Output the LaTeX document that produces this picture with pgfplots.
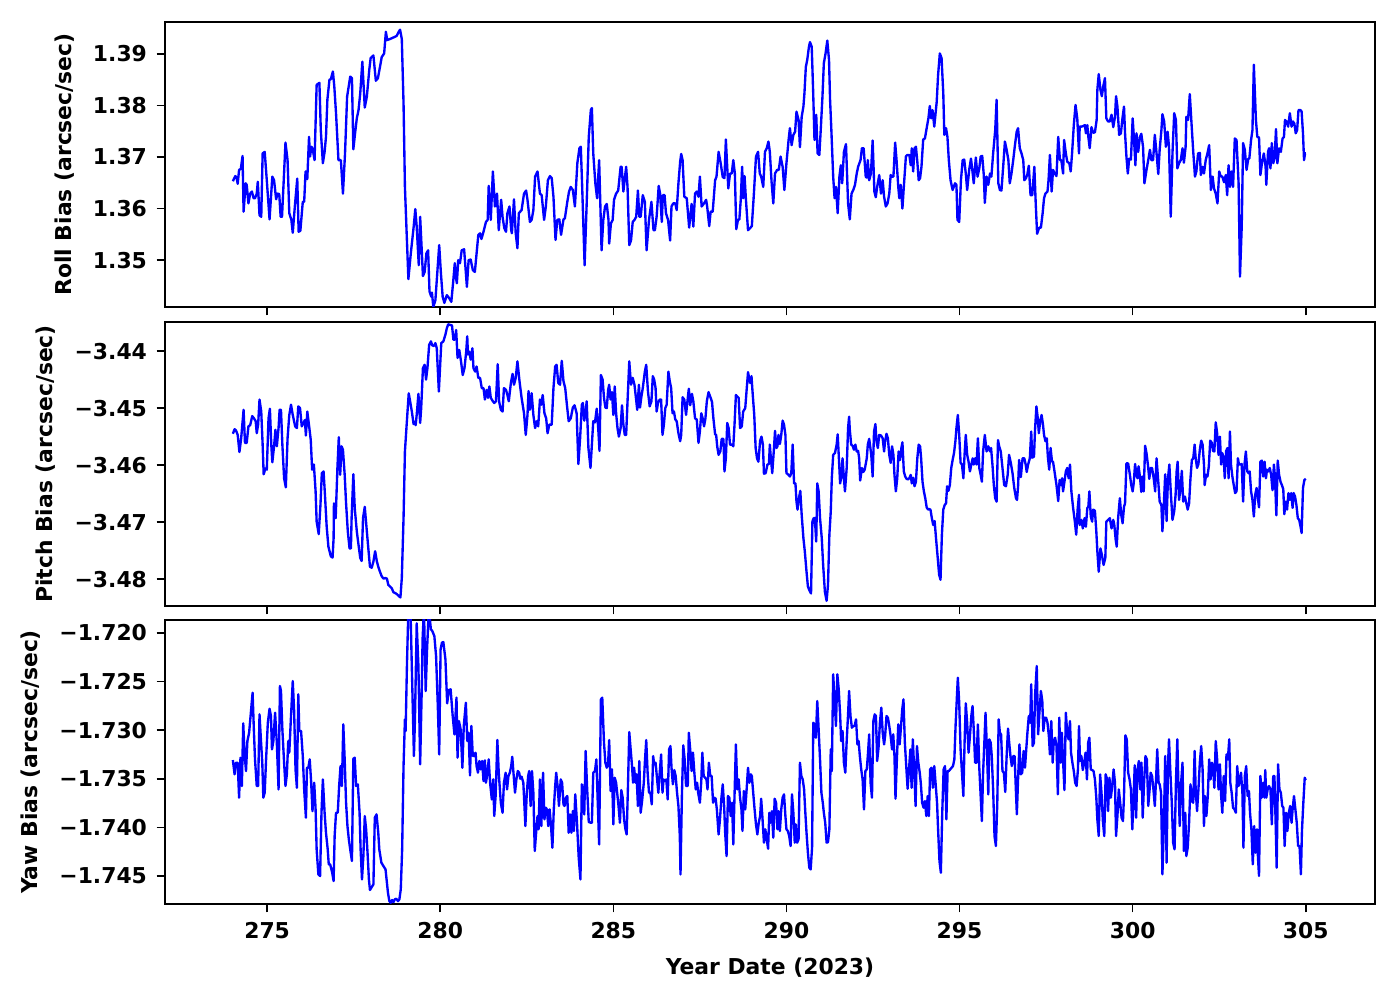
\documentclass[border=0pt]{standalone}
\usepackage{fontspec}
\setmainfont{DejaVu Sans}
\usepackage{pgfplots}
\pgfplotsset{compat=1.18}
\pgfplotsset{
  panel/.style={
    scale only axis, width=6.05in, height=1.42in,
    xmin=272.05, xmax=307,
    xtick={275,280,285,290,295,300,305},
    tick pos=left, tick align=outside,
    major tick length=3pt,
    every tick/.style={black, line width=0.55pt},
    axis line style={line width=0.55pt},
    tick label style={font=\fontsize{7.9}{9}\selectfont\bfseries},
    label style={font=\fontsize{7.9}{9}\selectfont\bfseries},
    no markers,
    every axis plot/.append style={line width=0.85pt, line join=round, color={rgb,255:red,0;green,0;blue,255}, mark=none},
    clip=true,
  }
}
\begin{document}
\begin{tikzpicture}
\path[use as bounding box] (0,0) rectangle (7in,5in);
% ---------------- Roll ----------------
\begin{axis}[panel, at={(0.825in,3.465in)}, anchor=south west,
  height=1.425in,
  ymin=1.3409, ymax=1.3962,
  ytick={1.35,1.36,1.37,1.38,1.39},
  yticklabels={1.35,1.36,1.37,1.38,1.39},
  xticklabels={},
  ylabel={Roll Bias (arcsec/sec)}]
\addplot coordinates {
(274.01,1.3653)(274.08,1.3663)(274.12,1.3660)(274.15,1.3648)(274.19,1.3675)(274.24,1.3677)(274.29,1.3702)(274.32,1.3594)(274.38,1.3649)(274.41,1.3646)(274.46,1.3610)(274.51,1.3629)(274.56,1.3633)(274.61,1.3620)(274.65,1.3620)(274.70,1.3629)(274.73,1.3652)(274.78,1.3587)(274.83,1.3584)(274.87,1.3707)(274.93,1.3710)(274.99,1.3655)(275.07,1.3579)(275.15,1.3662)(275.20,1.3655)(275.26,1.3618)(275.30,1.3629)(275.35,1.3628)(275.39,1.3584)(275.43,1.3584)(275.53,1.3728)(275.59,1.3694)(275.64,1.3591)(275.70,1.3578)(275.74,1.3553)(275.80,1.3604)(275.87,1.3658)(275.91,1.3555)(275.96,1.3557)(276.03,1.3613)(276.07,1.3613)(276.11,1.3672)(276.16,1.3657)(276.21,1.3739)(276.24,1.3701)(276.28,1.3720)(276.32,1.3714)(276.37,1.3694)(276.43,1.3840)(276.51,1.3844)(276.55,1.3752)(276.61,1.3688)(276.66,1.3710)(276.70,1.3739)(276.74,1.3811)(276.80,1.3850)(276.84,1.3851)(276.90,1.3866)(276.94,1.3837)(276.99,1.3785)(277.06,1.3694)(277.13,1.3694)(277.19,1.3629)(277.25,1.3707)(277.31,1.3817)(277.40,1.3856)(277.45,1.3853)(277.49,1.3715)(277.54,1.3746)(277.59,1.3775)(277.64,1.3791)(277.69,1.3824)(277.75,1.3885)(277.82,1.3796)(277.88,1.3817)(277.95,1.3869)(277.99,1.3892)(278.07,1.3897)(278.14,1.3848)(278.20,1.3853)(278.26,1.3875)(278.31,1.3894)(278.38,1.3901)(278.43,1.3943)(278.47,1.3927)(278.55,1.3929)(278.65,1.3932)(278.74,1.3935)(278.80,1.3943)(278.84,1.3947)(278.89,1.3929)(278.94,1.3804)(278.98,1.3642)(279.03,1.3552)(279.08,1.3463)(279.15,1.3513)(279.23,1.3563)(279.28,1.3599)(279.32,1.3565)(279.38,1.3490)(279.42,1.3584)(279.47,1.3513)(279.50,1.3469)(279.55,1.3477)(279.60,1.3513)(279.65,1.3519)(279.69,1.3439)(279.74,1.3429)(279.76,1.3437)(279.80,1.3409)(279.86,1.3422)(279.97,1.3529)(280.02,1.3474)(280.07,1.3429)(280.12,1.3417)(280.19,1.3432)(280.26,1.3426)(280.32,1.3419)(280.37,1.3455)(280.42,1.3494)(280.45,1.3468)(280.48,1.3455)(280.52,1.3500)(280.57,1.3494)(280.62,1.3519)(280.69,1.3521)(280.77,1.3448)(280.82,1.3500)(280.88,1.3501)(280.94,1.3481)(281.00,1.3477)(281.05,1.3513)(281.10,1.3549)(281.15,1.3552)(281.19,1.3541)(281.25,1.3555)(281.32,1.3574)(281.37,1.3578)(281.40,1.3644)(281.46,1.3578)(281.52,1.3672)(281.58,1.3604)(281.64,1.3629)(281.69,1.3558)(281.76,1.3617)(281.80,1.3584)(281.85,1.3562)(281.90,1.3555)(281.94,1.3591)(282.00,1.3604)(282.05,1.3558)(282.07,1.3552)(282.13,1.3618)(282.18,1.3552)(282.23,1.3523)(282.27,1.3591)(282.31,1.3594)(282.35,1.3597)(282.42,1.3629)(282.48,1.3635)(282.52,1.3617)(282.59,1.3574)(282.64,1.3578)(282.69,1.3597)(282.74,1.3662)(282.81,1.3672)(282.88,1.3629)(282.93,1.3626)(283.00,1.3578)(283.05,1.3604)(283.11,1.3655)(283.17,1.3663)(283.22,1.3659)(283.27,1.3623)(283.33,1.3539)(283.38,1.3578)(283.44,1.3579)(283.49,1.3549)(283.56,1.3579)(283.60,1.3581)(283.67,1.3613)(283.72,1.3633)(283.77,1.3642)(283.83,1.3636)(283.89,1.3604)(283.96,1.3688)(284.02,1.3717)(284.06,1.3720)(284.10,1.3642)(284.17,1.3490)(284.23,1.3610)(284.29,1.3739)(284.35,1.3791)(284.38,1.3795)(284.42,1.3707)(284.48,1.3649)(284.53,1.3620)(284.59,1.3694)
(284.66,1.3519)(284.71,1.3578)(284.76,1.3604)(284.81,1.3609)(284.86,1.3578)(284.88,1.3532)(284.93,1.3571)(284.98,1.3578)(285.02,1.3617)(285.08,1.3629)(285.14,1.3635)(285.21,1.3681)(285.24,1.3681)(285.29,1.3633)(285.37,1.3681)(285.41,1.3642)(285.46,1.3529)(285.51,1.3538)(285.56,1.3574)(285.61,1.3578)(285.66,1.3584)(285.71,1.3635)(285.75,1.3584)(285.79,1.3584)(285.85,1.3626)(285.91,1.3613)(285.96,1.3519)(286.03,1.3578)(286.10,1.3613)(286.16,1.3558)(286.20,1.3558)(286.25,1.3584)(286.31,1.3644)(286.35,1.3629)(286.40,1.3574)(286.43,1.3626)(286.48,1.3626)(286.52,1.3591)(286.58,1.3578)(286.64,1.3538)(286.68,1.3604)(286.73,1.3610)(286.79,1.3610)(286.83,1.3597)(286.88,1.3649)(286.93,1.3691)(286.96,1.3706)(287.00,1.3694)(287.05,1.3623)(287.12,1.3620)(287.19,1.3563)(287.26,1.3609)(287.31,1.3565)(287.36,1.3629)(287.41,1.3633)(287.46,1.3623)(287.50,1.3662)(287.55,1.3604)(287.62,1.3610)(287.68,1.3617)(287.71,1.3604)(287.77,1.3566)(287.81,1.3594)(287.87,1.3594)(287.94,1.3655)(287.98,1.3662)(288.04,1.3710)(288.10,1.3688)(288.16,1.3661)(288.21,1.3659)(288.25,1.3734)(288.32,1.3639)(288.37,1.3668)(288.42,1.3668)(288.465,1.3694)(288.51,1.3668)(288.55,1.3560)(288.60,1.3578)(288.64,1.3579)(288.68,1.3617)(288.72,1.3681)(288.75,1.3620)(288.79,1.3663)(288.83,1.3617)(288.89,1.3558)(288.95,1.3562)(289.00,1.3566)(289.06,1.3629)(289.12,1.3701)(289.18,1.3710)(289.23,1.3668)(289.27,1.3662)(289.33,1.3642)(289.38,1.3710)(289.43,1.3717)(289.48,1.3730)(289.52,1.3710)(289.57,1.3652)(289.62,1.3610)(289.67,1.3668)(289.73,1.3675)(289.78,1.3675)(289.83,1.3701)(289.89,1.3681)(289.94,1.3636)(290.00,1.3688)(290.06,1.3732)(290.10,1.3756)(290.15,1.3723)(290.20,1.3743)(290.25,1.3749)(290.29,1.3788)(290.35,1.3772)(290.39,1.3719)(290.44,1.3778)(290.49,1.3798)(290.52,1.3824)(290.56,1.3875)(290.60,1.3888)(290.65,1.3914)(290.68,1.3923)(290.73,1.3914)(290.77,1.3830)(290.81,1.3733)(290.86,1.3782)(290.90,1.3707)(290.95,1.3704)(290.99,1.3752)(291.04,1.3817)(291.08,1.3882)(291.13,1.3901)(291.18,1.3926)(291.23,1.3888)(291.26,1.3811)(291.295,1.3756)(291.35,1.3662)(291.39,1.3620)(291.43,1.3642)(291.48,1.3591)(291.53,1.3662)(291.57,1.3684)(291.61,1.3649)(291.66,1.3710)(291.72,1.3725)(291.78,1.3610)(291.83,1.3579)(291.88,1.3629)(291.93,1.3636)(291.98,1.3646)(292.03,1.3668)(292.07,1.3681)(292.14,1.3694)(292.18,1.3717)(292.23,1.3717)(292.29,1.3662)(292.32,1.3660)(292.35,1.3694)(292.39,1.3655)(292.44,1.3668)(292.49,1.3732)(292.54,1.3633)(292.58,1.3622)(292.62,1.3642)(292.68,1.3665)(292.73,1.3629)(292.78,1.3655)(292.82,1.3623)(292.87,1.3604)(292.92,1.3610)(292.97,1.3629)(293.01,1.3665)(293.05,1.3662)(293.09,1.3662)(293.14,1.3728)(293.18,1.3694)(293.23,1.3642)(293.26,1.3620)(293.30,1.3646)(293.35,1.3600)(293.39,1.3642)(293.45,1.3701)(293.49,1.3704)(293.55,1.3704)(293.59,1.3684)(293.62,1.3717)(293.66,1.3672)(293.70,1.3717)(293.74,1.3720)(293.78,1.3691)(293.82,1.3655)(293.86,1.3659)(293.90,1.3681)(293.95,1.3734)(294.00,1.3736)(294.05,1.3756)(294.10,1.3775)(294.14,1.3799)(294.18,1.3775)(294.22,1.3791)(294.27,1.3759)(294.34,1.3807)(294.38,1.3859)(294.43,1.3901)(294.48,1.3892)(294.53,1.3824)(294.56,1.3743)(294.61,1.3756)(294.65,1.3739)(294.69,1.3694)(294.74,1.3655)(294.80,1.3636)(294.87,1.3649)(294.91,1.3646)(294.94,1.3578)(294.99,1.3574)(295.04,1.3655)(295.09,1.3694)(295.135,1.3695)(295.18,1.3668)(295.22,1.3636)(295.28,1.3676)(295.33,1.3697)(295.38,1.3668)(295.41,1.3649)(295.47,1.3699)(295.52,1.3662)(295.57,1.3678)(295.61,1.3701)(295.655,1.3702)(295.70,1.3665)(295.73,1.3611)(295.78,1.3662)(295.83,1.3646)(295.88,1.3668)(295.92,1.3662)(295.97,1.3707)(296.03,1.3752)(296.07,1.3811)(296.12,1.3649)
(296.165,1.3636)(296.21,1.3635)(296.26,1.3681)(296.31,1.3730)(296.36,1.3714)(296.41,1.3694)(296.45,1.3649)(296.50,1.3668)(296.55,1.3694)(296.60,1.3723)(296.65,1.3749)(296.69,1.3756)(296.74,1.3717)(296.79,1.3707)(296.84,1.3694)(296.87,1.3655)(296.92,1.3659)(296.96,1.3667)(297.00,1.3683)(297.05,1.3626)(297.10,1.3626)(297.16,1.3681)(297.20,1.3610)(297.24,1.3551)(297.30,1.3563)(297.35,1.3563)(297.40,1.3591)(297.44,1.3620)(297.48,1.3629)(297.54,1.3633)(297.57,1.3655)(297.61,1.3704)(297.66,1.3633)(297.70,1.3675)(297.75,1.3668)(297.80,1.3663)(297.85,1.3739)(297.90,1.3694)(297.94,1.3694)(297.99,1.3668)(298.02,1.3733)(298.07,1.3707)(298.11,1.3691)(298.17,1.3688)(298.21,1.3672)(298.25,1.3707)(298.30,1.3762)(298.35,1.3801)(298.40,1.3775)(298.45,1.3707)(298.47,1.3759)(298.52,1.3759)(298.57,1.3760)(298.62,1.3762)(298.65,1.3746)(298.69,1.3762)(298.72,1.3739)(298.76,1.3717)(298.81,1.3758)(298.86,1.3747)(298.91,1.3748)(298.96,1.3772)(298.98,1.3830)(299.02,1.3861)(299.07,1.3830)(299.11,1.3818)(299.15,1.3837)(299.20,1.3853)(299.24,1.3775)(299.29,1.3769)(299.34,1.3769)(299.39,1.3782)(299.44,1.3758)(299.49,1.3778)(299.52,1.3818)(299.56,1.3798)(299.61,1.3743)(299.66,1.3746)(299.70,1.3772)(299.75,1.3798)(299.78,1.3746)(299.82,1.3701)(299.86,1.3668)(299.90,1.3697)(299.95,1.3695)(300.00,1.3775)(300.04,1.3733)(300.08,1.3684)(300.11,1.3746)(300.16,1.3710)(300.21,1.3739)(300.25,1.3745)(300.30,1.3720)(300.34,1.3649)(300.40,1.3675)(300.45,1.3694)(300.50,1.3714)(300.54,1.3694)(300.59,1.3694)(300.64,1.3743)(300.69,1.3707)(300.74,1.3667)(300.78,1.3714)(300.83,1.3752)(300.86,1.3783)(300.91,1.3769)(300.96,1.3720)(301.01,1.3749)(301.05,1.3720)(301.10,1.3584)(301.15,1.3707)(301.20,1.3785)(301.25,1.3772)(301.29,1.3678)(301.34,1.3688)(301.39,1.3694)(301.44,1.3717)(301.48,1.3689)(301.53,1.3720)(301.55,1.3778)(301.60,1.3772)(301.65,1.3822)(301.70,1.3765)(301.75,1.3710)(301.80,1.3662)(301.84,1.3672)(301.89,1.3707)(301.94,1.3708)(301.97,1.3665)(302.02,1.3681)(302.06,1.3668)(302.11,1.3694)(302.16,1.3707)(302.21,1.3723)(302.26,1.3636)(302.31,1.3662)(302.35,1.3639)(302.40,1.3629)(302.45,1.3610)(302.50,1.3672)(302.54,1.3663)(302.59,1.3662)(302.64,1.3651)(302.69,1.3665)(302.73,1.3626)(302.77,1.3684)(302.81,1.3642)(302.85,1.3672)(302.90,1.3642)(302.95,1.3736)(303.00,1.3733)(303.06,1.3649)(303.10,1.3468)(303.15,1.3565)(303.19,1.3727)(303.24,1.3714)(303.29,1.3675)(303.34,1.3697)(303.37,1.3697)(303.42,1.3733)(303.46,1.3752)(303.50,1.3879)(303.56,1.3772)(303.60,1.3739)(303.65,1.3738)(303.69,1.3665)(303.74,1.3691)(303.79,1.3707)(303.84,1.3681)(303.86,1.3646)(303.91,1.3710)(303.94,1.3717)(303.98,1.3678)(304.02,1.3727)(304.06,1.3688)(304.10,1.3697)(304.14,1.3754)(304.18,1.3688)(304.23,1.3717)(304.28,1.3710)(304.33,1.3736)(304.37,1.3739)(304.40,1.3772)(304.44,1.3769)(304.49,1.3759)(304.54,1.3785)(304.59,1.3759)(304.63,1.3769)(304.67,1.3765)(304.71,1.3746)(304.75,1.3752)(304.79,1.3791)(304.85,1.3791)(304.88,1.3788)(304.92,1.3746)(304.95,1.3694)(304.98,1.3707)(305.00,1.3707)
};
\end{axis}
% ---------------- Pitch ----------------
\begin{axis}[panel, at={(0.825in,1.97in)}, anchor=south west,
  ymin=-3.4847, ymax=-3.4349,
  ytick={-3.48,-3.47,-3.46,-3.45,-3.44},
  yticklabels={−3.48,−3.47,−3.46,−3.45,−3.44},
  xticklabels={},
  ylabel={Pitch Bias (arcsec/sec)}]
\addplot coordinates {
(274.01,-3.4545)(274.06,-3.4537)(274.10,-3.4539)(274.15,-3.4547)(274.20,-3.4577)(274.25,-3.4553)(274.32,-3.4503)(274.36,-3.4561)(274.41,-3.4561)(274.46,-3.4532)(274.51,-3.4530)(274.57,-3.4514)(274.62,-3.4518)(274.67,-3.4523)(274.70,-3.4544)(274.74,-3.4529)(274.78,-3.4485)(274.83,-3.4506)(274.87,-3.4564)(274.90,-3.4616)(274.95,-3.4606)(274.99,-3.4608)(275.04,-3.4518)(275.08,-3.4501)(275.12,-3.4564)(275.15,-3.4595)(275.20,-3.4567)(275.24,-3.4538)(275.28,-3.4567)(275.33,-3.4535)(275.36,-3.4503)(275.40,-3.4503)(275.44,-3.4564)(275.49,-3.4623)(275.54,-3.4639)(275.59,-3.4553)(275.64,-3.4512)(275.69,-3.4494)(275.74,-3.4512)(275.81,-3.4532)(275.86,-3.4535)(275.90,-3.4497)(275.95,-3.4500)(276.00,-3.4532)(276.05,-3.4526)(276.09,-3.4521)(276.12,-3.4548)(276.16,-3.4506)(276.22,-3.4535)(276.26,-3.4556)(276.30,-3.4608)(276.35,-3.4599)(276.40,-3.4646)(276.43,-3.4699)(276.49,-3.4721)(276.54,-3.4670)(276.58,-3.4614)(276.63,-3.4611)(276.67,-3.4652)(276.72,-3.4708)(276.77,-3.4743)(276.84,-3.4760)(276.89,-3.4762)(276.92,-3.4728)(276.93,-3.4667)(276.98,-3.4693)(277.03,-3.4605)(277.07,-3.4551)(277.11,-3.4617)(277.15,-3.4567)(277.19,-3.4573)(277.24,-3.4617)(277.28,-3.4667)(277.33,-3.4716)(277.38,-3.4746)(277.42,-3.4746)(277.44,-3.4693)(277.49,-3.4616)(277.53,-3.4675)(277.59,-3.4716)(277.64,-3.4740)(277.69,-3.4763)(277.73,-3.4768)(277.77,-3.4693)(277.82,-3.4673)(277.88,-3.4716)(277.93,-3.4751)(277.97,-3.4778)(278.02,-3.4780)(278.07,-3.4769)(278.12,-3.4751)(278.17,-3.4769)(278.21,-3.4778)(278.26,-3.4787)(278.31,-3.4795)(278.36,-3.4799)(278.41,-3.4798)(278.46,-3.4799)(278.50,-3.4810)(278.55,-3.4813)(278.60,-3.4816)(278.65,-3.4823)(278.72,-3.4825)(278.76,-3.4827)(278.81,-3.4830)(278.85,-3.4832)(278.89,-3.4798)(278.94,-3.4693)(278.98,-3.4576)(279.03,-3.4529)(279.09,-3.4474)(279.13,-3.4488)(279.18,-3.4506)(279.23,-3.4528)(279.26,-3.4525)(279.29,-3.4530)(279.32,-3.4512)(279.37,-3.4475)(279.42,-3.4526)(279.45,-3.4500)(279.50,-3.4430)(279.55,-3.4424)(279.59,-3.4450)(279.63,-3.4430)(279.68,-3.4389)(279.73,-3.4383)(279.77,-3.4390)(279.82,-3.4391)(279.86,-3.4386)(279.90,-3.4395)(279.96,-3.4471)(280.03,-3.4386)(280.09,-3.4383)(280.15,-3.4371)(280.19,-3.4360)(280.23,-3.4353)(280.28,-3.4354)(280.34,-3.4355)(280.38,-3.4380)(280.42,-3.4380)(280.46,-3.4363)(280.50,-3.4412)(280.55,-3.4398)(280.60,-3.4418)(280.65,-3.4442)(280.70,-3.4430)(280.75,-3.4401)(280.78,-3.4374)(280.80,-3.4406)(280.84,-3.4401)(280.88,-3.4415)(280.93,-3.4395)(280.96,-3.4430)(281.01,-3.4436)(281.05,-3.4427)(281.10,-3.4447)(281.15,-3.4447)(281.20,-3.4465)(281.25,-3.4465)(281.29,-3.4485)(281.34,-3.4468)(281.38,-3.4482)(281.42,-3.4462)(281.46,-3.4482)(281.52,-3.4488)(281.56,-3.4491)(281.61,-3.4488)(281.66,-3.4423)(281.70,-3.4488)(281.75,-3.4503)(281.80,-3.4506)(281.84,-3.4465)(281.90,-3.4468)(281.94,-3.4477)(281.98,-3.4488)(282.04,-3.4456)(282.09,-3.4440)(282.13,-3.4459)(282.18,-3.4447)(282.23,-3.4418)(282.29,-3.4453)(282.35,-3.4482)(282.42,-3.4509)(282.47,-3.4547)(282.52,-3.4512)(282.55,-3.4470)(282.59,-3.4503)(282.64,-3.4474)(282.69,-3.4512)(282.74,-3.4535)(282.79,-3.4523)(282.83,-3.4532)(282.88,-3.4485)(282.92,-3.4494)(282.96,-3.4477)(283.01,-3.4509)(283.06,-3.4518)(283.10,-3.4544)(283.15,-3.4529)(283.22,-3.4529)(283.27,-3.4465)(283.32,-3.4427)(283.36,-3.4424)(283.41,-3.4456)(283.46,-3.4459)(283.51,-3.4417)(283.56,-3.4453)(283.61,-3.4465)(283.66,-3.4495)(283.71,-3.4523)(283.77,-3.4518)(283.83,-3.4499)(283.88,-3.4495)(283.94,-3.4509)(283.99,-3.4598)(284.04,-3.4553)(284.09,-3.4494)(284.12,-3.4491)(284.16,-3.4522)(284.20,-3.4506)(284.23,-3.4488)(284.28,-3.4570)(284.34,-3.4605)(284.38,-3.4564)(284.42,-3.4523)(284.47,-3.4525)(284.52,-3.4501)(284.56,-3.4532)(284.60,-3.4575)
(284.64,-3.4442)(284.69,-3.4450)(284.73,-3.4482)(284.77,-3.4499)(284.81,-3.4500)(284.85,-3.4468)(284.88,-3.4459)(284.92,-3.4485)(284.96,-3.4472)(285.00,-3.4512)(285.04,-3.4462)(285.08,-3.4509)(285.12,-3.4535)(285.16,-3.4550)(285.21,-3.4535)(285.25,-3.4495)(285.29,-3.4529)(285.33,-3.4547)(285.37,-3.4547)(285.41,-3.4488)(285.46,-3.4418)(285.51,-3.4459)(285.56,-3.4447)(285.61,-3.4459)(285.645,-3.4478)(285.69,-3.4503)(285.74,-3.4459)(285.77,-3.4499)(285.81,-3.4480)(285.85,-3.4465)(285.91,-3.4436)(285.95,-3.4424)(286.00,-3.4471)(286.05,-3.4497)(286.10,-3.4488)(286.14,-3.4444)(286.18,-3.4450)(286.22,-3.4465)(286.25,-3.4506)(286.29,-3.4491)(286.34,-3.4485)(286.38,-3.4485)(286.42,-3.4547)(286.46,-3.4529)(286.50,-3.4500)(286.54,-3.4494)(286.59,-3.4436)(286.63,-3.4453)(286.67,-3.4465)(286.71,-3.4509)(286.75,-3.4506)(286.79,-3.4520)(286.83,-3.4523)(286.88,-3.4544)(286.93,-3.4558)(286.96,-3.4547)(287.00,-3.4481)(287.05,-3.4485)(287.10,-3.4512)(287.14,-3.4488)(287.18,-3.4466)(287.22,-3.4495)(287.27,-3.4475)(287.31,-3.4488)(287.36,-3.4518)(287.41,-3.4520)(287.46,-3.4561)(287.50,-3.4541)(287.54,-3.4509)(287.58,-3.4518)(287.62,-3.4532)(287.66,-3.4518)(287.70,-3.4488)(287.75,-3.4472)(287.81,-3.4482)(287.85,-3.4489)(287.89,-3.4518)(287.94,-3.4546)(287.97,-3.4547)(288.00,-3.4567)(288.04,-3.4582)(288.09,-3.4576)(288.13,-3.4554)(288.18,-3.4554)(288.21,-3.4611)(288.25,-3.4588)(288.29,-3.4526)(288.33,-3.4535)(288.37,-3.4564)(288.43,-3.4564)(288.465,-3.4567)(288.50,-3.4529)(288.54,-3.4477)(288.58,-3.4480)(288.62,-3.4482)(288.66,-3.4535)(288.71,-3.4532)(288.75,-3.4506)(288.81,-3.4500)(288.85,-3.4468)(288.89,-3.4437)(288.95,-3.4456)(288.99,-3.4444)(289.02,-3.4471)(289.07,-3.4512)(289.11,-3.4570)(289.15,-3.4588)(289.19,-3.4594)(289.24,-3.4557)(289.28,-3.4550)(289.32,-3.4564)(289.35,-3.4615)(289.40,-3.4614)(289.45,-3.4599)(289.495,-3.4598)(289.52,-3.4564)(289.55,-3.4588)(289.59,-3.4614)(289.63,-3.4579)(289.67,-3.4540)(289.71,-3.4570)(289.74,-3.4567)(289.77,-3.4547)(289.81,-3.4563)(289.85,-3.4547)(289.89,-3.4522)(289.93,-3.4529)(289.97,-3.4547)(290.00,-3.4614)(290.06,-3.4617)(290.10,-3.4620)(290.14,-3.4614)(290.18,-3.4564)(290.22,-3.4632)(290.26,-3.4632)(290.29,-3.4664)(290.32,-3.4678)(290.36,-3.4658)(290.40,-3.4645)(290.44,-3.4687)(290.49,-3.4728)(290.53,-3.4751)(290.58,-3.4787)(290.62,-3.4813)(290.66,-3.4819)(290.71,-3.4825)(290.75,-3.4699)(290.785,-3.4693)(290.82,-3.4693)(290.86,-3.4734)(290.89,-3.4632)(290.93,-3.4646)(290.97,-3.4693)(291.02,-3.4728)(291.06,-3.4775)(291.11,-3.4822)(291.16,-3.4838)(291.20,-3.4810)(291.24,-3.4722)(291.28,-3.4681)(291.31,-3.4623)(291.35,-3.4582)(291.40,-3.4579)(291.45,-3.4564)(291.48,-3.4546)(291.51,-3.4582)(291.55,-3.4632)(291.58,-3.4623)(291.62,-3.4588)(291.66,-3.4623)(291.69,-3.4646)(291.74,-3.4605)(291.78,-3.4535)(291.81,-3.4515)(291.83,-3.4538)(291.87,-3.4564)(291.91,-3.4566)(291.95,-3.4573)(291.99,-3.4564)(292.03,-3.4576)(292.07,-3.4575)(292.10,-3.4588)(292.13,-3.4627)(292.18,-3.4605)(292.22,-3.4612)(292.26,-3.4608)(292.32,-3.4588)(292.35,-3.4564)(292.39,-3.4554)(292.45,-3.4582)(292.49,-3.4620)(292.53,-3.4541)(292.57,-3.4528)(292.60,-3.4558)(292.64,-3.4570)(292.68,-3.4547)(292.73,-3.4548)(292.78,-3.4553)(292.82,-3.4576)(292.85,-3.4558)(292.89,-3.4545)(292.93,-3.4553)(292.97,-3.4582)(293.01,-3.4596)(293.05,-3.4567)(293.09,-3.4582)(293.12,-3.4617)(293.16,-3.4646)(293.20,-3.4623)(293.24,-3.4576)(293.28,-3.4591)(293.32,-3.4570)(293.35,-3.4560)(293.39,-3.4611)(293.43,-3.4620)(293.47,-3.4624)(293.51,-3.4625)(293.55,-3.4623)(293.59,-3.4617)(293.62,-3.4632)(293.66,-3.4622)(293.70,-3.4637)(293.74,-3.4629)(293.78,-3.4588)(293.82,-3.4564)(293.86,-3.4567)(293.89,-3.4588)(293.93,-3.4629)(293.97,-3.4646)(294.01,-3.4658)(294.05,-3.4674)(294.09,-3.4678)(294.12,-3.4677)(294.16,-3.4678)(294.20,-3.4693)(294.24,-3.4705)(294.28,-3.4698)(294.32,-3.4728)(294.37,-3.4763)(294.41,-3.4792)(294.45,-3.4801)(294.49,-3.4722)(294.53,-3.4678)(294.57,-3.4670)(294.61,-3.4667)(294.64,-3.4637)(294.68,-3.4645)(294.72,-3.4635)(294.76,-3.4605)(294.80,-3.4591)(294.84,-3.4579)(294.88,-3.4558)(294.91,-3.4535)(294.95,-3.4512)(294.99,-3.4547)(295.03,-3.4596)(295.07,-3.4599)(295.11,-3.4623)(295.15,-3.4576)(295.18,-3.4547)(295.22,-3.4582)(295.26,-3.4594)(295.30,-3.4611)(295.34,-3.4599)(295.38,-3.4588)(295.41,-3.4599)(295.45,-3.4588)(295.49,-3.4599)(295.53,-3.4553)(295.57,-3.4605)(295.61,-3.4617)(295.645,-3.4629)(295.68,-3.4576)(295.73,-3.4547)(295.78,-3.4576)(295.83,-3.4567)(295.88,-3.4576)(295.91,-3.4570)(295.95,-3.4599)(295.99,-3.4635)(296.03,-3.4658)(296.07,-3.4664)(296.11,-3.4556)
(296.145,-3.4567)(296.19,-3.4576)(296.24,-3.4605)(296.29,-3.4635)(296.34,-3.4637)(296.39,-3.4617)(296.43,-3.4582)(296.48,-3.4596)(296.53,-3.4614)(296.58,-3.4640)(296.63,-3.4658)(296.66,-3.4661)(296.69,-3.4637)(296.72,-3.4591)(296.77,-3.4621)(296.82,-3.4588)(296.87,-3.4588)(296.91,-3.4599)(296.94,-3.4612)(296.98,-3.4599)(297.03,-3.4588)(297.07,-3.4541)(297.10,-3.4587)(297.15,-3.4585)(297.18,-3.4538)(297.22,-3.4497)(297.26,-3.4518)(297.29,-3.4544)(297.33,-3.4523)(297.37,-3.4512)(297.41,-3.4529)(297.44,-3.4547)(297.48,-3.4558)(297.52,-3.4553)(297.55,-3.4585)(297.59,-3.4608)(297.63,-3.4570)(297.67,-3.4594)(297.70,-3.4594)(297.75,-3.4614)(297.80,-3.4635)(297.85,-3.4663)(297.89,-3.4626)(297.93,-3.4635)(297.96,-3.4623)(297.99,-3.4646)(298.03,-3.4629)(298.07,-3.4611)(298.11,-3.4605)(298.15,-3.4623)(298.19,-3.4599)(298.23,-3.4646)(298.28,-3.4675)(298.33,-3.4699)(298.37,-3.4722)(298.41,-3.4678)(298.45,-3.4652)(298.47,-3.4705)(298.52,-3.4696)(298.56,-3.4711)(298.61,-3.4693)(298.65,-3.4708)(298.69,-3.4675)(298.72,-3.4673)(298.75,-3.4646)(298.79,-3.4690)(298.83,-3.4699)(298.86,-3.4678)(298.91,-3.4680)(298.95,-3.4716)(298.98,-3.4751)(299.02,-3.4787)(299.07,-3.4746)(299.11,-3.4757)(299.16,-3.4775)(299.21,-3.4763)(299.24,-3.4699)(299.29,-3.4696)(299.34,-3.4693)(299.39,-3.4711)(299.44,-3.4696)(299.47,-3.4705)(299.51,-3.4731)(299.54,-3.4743)(299.58,-3.4693)(299.63,-3.4658)(299.67,-3.4687)(299.71,-3.4702)(299.75,-3.4673)(299.78,-3.4667)(299.82,-3.4597)(299.87,-3.4597)(299.92,-3.4617)(299.96,-3.4635)(300.00,-3.4646)(300.03,-3.4632)(300.07,-3.4598)(300.11,-3.4617)(300.14,-3.4623)(300.17,-3.4602)(300.21,-3.4620)(300.25,-3.4647)(300.28,-3.4620)(300.32,-3.4646)(300.36,-3.4566)(300.40,-3.4579)(300.44,-3.4599)(300.48,-3.4624)(300.52,-3.4605)(300.56,-3.4605)(300.61,-3.4624)(300.65,-3.4646)(300.69,-3.4588)(300.74,-3.4629)(300.78,-3.4664)(300.83,-3.4670)(300.86,-3.4716)(300.90,-3.4670)(300.94,-3.4616)(300.98,-3.4698)(301.02,-3.4623)(301.06,-3.4599)(301.10,-3.4646)(301.15,-3.4696)(301.20,-3.4681)(301.24,-3.4652)(301.27,-3.4611)(301.30,-3.4594)(301.34,-3.4661)(301.38,-3.4642)(301.42,-3.4610)(301.46,-3.4664)(301.51,-3.4655)(301.55,-3.4667)(301.59,-3.4678)(301.63,-3.4667)(301.67,-3.4623)(301.71,-3.4591)(301.75,-3.4588)(301.79,-3.4564)(301.82,-3.4588)(301.86,-3.4605)(301.90,-3.4598)(301.94,-3.4573)(301.98,-3.4557)(302.02,-3.4564)(302.06,-3.4599)(302.08,-3.4635)(302.12,-3.4617)(302.16,-3.4620)(302.20,-3.4602)(302.24,-3.4557)(302.29,-3.4561)(302.32,-3.4575)(302.36,-3.4576)(302.40,-3.4525)(302.44,-3.4544)(302.48,-3.4582)(302.52,-3.4550)(302.556,-3.4599)(302.59,-3.4579)(302.63,-3.4588)(302.66,-3.4623)(302.70,-3.4575)(302.74,-3.4570)(302.77,-3.4623)(302.81,-3.4541)(302.84,-3.4599)(302.88,-3.4620)(302.92,-3.4635)(302.96,-3.4649)(303.00,-3.4646)(303.04,-3.4588)(303.07,-3.4599)(303.11,-3.4599)(303.15,-3.4598)(303.19,-3.4664)(303.23,-3.4599)(303.27,-3.4576)(303.31,-3.4611)(303.35,-3.4614)(303.38,-3.4611)(303.42,-3.4646)(303.46,-3.4661)(303.50,-3.4690)(303.54,-3.4652)(303.58,-3.4640)(303.61,-3.4655)(303.65,-3.4674)(303.69,-3.4594)(303.73,-3.4592)(303.77,-3.4620)(303.81,-3.4594)(303.85,-3.4623)(303.88,-3.4608)(303.92,-3.4611)(303.96,-3.4605)(304.00,-3.4617)(304.04,-3.4644)(304.08,-3.4599)(304.11,-3.4620)(304.15,-3.4688)(304.19,-3.4592)(304.23,-3.4617)(304.27,-3.4629)(304.31,-3.4635)(304.35,-3.4642)(304.38,-3.4686)(304.42,-3.4664)(304.46,-3.4678)(304.50,-3.4649)(304.54,-3.4661)(304.58,-3.4649)(304.62,-3.4675)(304.65,-3.4649)(304.69,-3.4655)(304.73,-3.4670)(304.77,-3.4693)(304.81,-3.4696)(304.85,-3.4708)(304.88,-3.4719)(304.92,-3.4640)(304.96,-3.4626)(305.00,-3.4624)
};
\end{axis}
% ---------------- Yaw ----------------
\begin{axis}[panel, at={(0.825in,0.48in)}, anchor=south west,
  ymin=-1.74788, ymax=-1.71866,
  ytick={-1.745,-1.740,-1.735,-1.730,-1.725,-1.720},
  yticklabels={−1.745,−1.740,−1.735,−1.730,−1.725,−1.720},
  xticklabels={275,280,285,290,295,300,305},
  ylabel={Yaw Bias (arcsec/sec)},
  xlabel={Year Date (2023)}]
\addplot coordinates {
(274.01,-1.73307)(274.06,-1.73454)(274.10,-1.73334)(274.15,-1.73334)(274.19,-1.73694)(274.23,-1.73283)(274.27,-1.73574)(274.31,-1.72930)(274.35,-1.73249)(274.39,-1.73420)(274.43,-1.73111)(274.48,-1.73026)(274.53,-1.72820)(274.58,-1.72614)(274.62,-1.73026)(274.65,-1.73300)(274.70,-1.73574)(274.74,-1.73574)(274.78,-1.72837)(274.82,-1.73094)(274.86,-1.73334)(274.89,-1.73694)(274.93,-1.73643)(274.97,-1.73300)(275.02,-1.72923)(275.07,-1.72779)(275.11,-1.72854)(275.14,-1.73197)(275.18,-1.73111)(275.23,-1.72820)(275.28,-1.73128)(275.33,-1.73609)(275.37,-1.72545)(275.40,-1.72597)(275.44,-1.72991)(275.49,-1.73334)(275.53,-1.73574)(275.57,-1.73454)(275.61,-1.73111)(275.64,-1.73231)(275.69,-1.72854)(275.74,-1.72494)(275.78,-1.72802)(275.82,-1.73403)(275.86,-1.73592)(275.90,-1.72631)(275.93,-1.73008)(275.98,-1.73008)(276.03,-1.73266)(276.07,-1.73609)(276.12,-1.73900)(276.15,-1.73386)(276.19,-1.73386)(276.23,-1.73300)(276.27,-1.73523)(276.31,-1.73832)(276.36,-1.73540)(276.40,-1.73814)(276.43,-1.74226)(276.48,-1.74483)(276.53,-1.74500)(276.57,-1.73849)(276.61,-1.73506)(276.66,-1.73849)(276.70,-1.74055)(276.75,-1.74226)(276.78,-1.74380)(276.82,-1.74380)(276.88,-1.74466)(276.92,-1.74552)(276.95,-1.74089)(276.99,-1.73849)(277.04,-1.73849)(277.08,-1.73574)(277.12,-1.73369)(277.16,-1.73574)(277.20,-1.72940)(277.24,-1.73300)(277.28,-1.73746)(277.32,-1.73986)(277.36,-1.74123)(277.40,-1.74226)(277.45,-1.74346)(277.49,-1.73293)(277.53,-1.73283)(277.57,-1.73574)(277.62,-1.73557)(277.67,-1.73849)(277.70,-1.74226)(277.74,-1.74535)(277.78,-1.74295)(277.82,-1.73883)(277.86,-1.74020)(277.90,-1.74260)(277.94,-1.74535)(277.97,-1.74644)(278.01,-1.74620)(278.07,-1.74586)(278.11,-1.73900)(278.16,-1.73866)(278.21,-1.74055)(278.24,-1.74226)(278.30,-1.74363)(278.36,-1.74398)(278.42,-1.74432)(278.46,-1.74569)(278.49,-1.74672)(278.53,-1.74758)(278.57,-1.74775)(278.61,-1.74747)(278.65,-1.74768)(278.69,-1.74740)(278.73,-1.74734)(278.78,-1.74758)(278.82,-1.74740)(278.86,-1.74638)(278.90,-1.74226)(278.94,-1.73369)(278.98,-1.72888)(279.00,-1.73008)(279.04,-1.72305)(279.08,-1.7175)(279.14,-1.7175)(279.19,-1.72511)(279.24,-1.73266)(279.27,-1.72888)(279.32,-1.71900)(279.37,-1.72339)(279.42,-1.73351)(279.47,-1.72511)(279.49,-1.72065)(279.53,-1.7175)(279.58,-1.72597)(279.62,-1.72168)(279.67,-1.7175)(279.73,-1.71962)(279.77,-1.71979)(279.83,-1.72031)(279.88,-1.72237)(279.93,-1.72751)(279.97,-1.73249)(280.01,-1.72168)(280.05,-1.72099)(280.09,-1.72093)(280.15,-1.72271)(280.20,-1.72724)(280.25,-1.72587)(280.30,-1.72579)(280.36,-1.72854)(280.41,-1.73043)(280.47,-1.72665)(280.50,-1.73283)(280.54,-1.72906)(280.59,-1.72991)(280.64,-1.73386)(280.68,-1.72957)(280.74,-1.72717)(280.78,-1.73111)(280.82,-1.73026)(280.86,-1.73465)(280.90,-1.72957)(280.94,-1.73266)(280.98,-1.73266)(281.02,-1.73231)(281.05,-1.73369)(281.09,-1.73437)(281.13,-1.73317)(281.17,-1.73403)(281.21,-1.73317)(281.25,-1.73523)(281.29,-1.73310)(281.32,-1.73540)(281.36,-1.73454)(281.40,-1.73300)(281.44,-1.73540)(281.49,-1.73712)(281.53,-1.73506)(281.56,-1.73883)(281.60,-1.73677)(281.65,-1.73101)(281.69,-1.73437)(281.75,-1.73746)(281.80,-1.73849)(281.84,-1.73540)(281.89,-1.73437)(281.93,-1.73609)(281.97,-1.73471)(282.01,-1.73437)(282.05,-1.73369)(282.08,-1.73273)(282.13,-1.73506)(282.16,-1.73643)(282.20,-1.73506)(282.24,-1.73420)(282.28,-1.73437)(282.31,-1.73499)(282.35,-1.73478)(282.40,-1.73540)(282.46,-1.73986)(282.50,-1.73643)(282.54,-1.73471)(282.57,-1.73420)(282.61,-1.73780)(282.65,-1.73420)(282.69,-1.73643)(282.73,-1.74243)(282.77,-1.74055)(282.81,-1.73883)(282.84,-1.74020)(282.88,-1.73506)(282.92,-1.73986)(282.97,-1.73437)(283.01,-1.73917)(283.05,-1.73797)(283.08,-1.73814)(283.12,-1.73986)(283.16,-1.73814)(283.20,-1.73986)(283.24,-1.74209)(283.28,-1.73814)(283.32,-1.73574)(283.35,-1.73437)(283.39,-1.73574)(283.43,-1.73780)(283.48,-1.73506)(283.52,-1.73540)(283.56,-1.73763)(283.59,-1.73780)(283.63,-1.73694)(283.67,-1.73677)(283.71,-1.74055)(283.75,-1.73866)(283.79,-1.74055)(283.83,-1.73832)(283.86,-1.74037)(283.90,-1.73660)(283.95,-1.73952)(284.00,-1.74312)(284.05,-1.74535)(284.09,-1.73557)(284.12,-1.73626)(284.16,-1.73866)(284.20,-1.73214)(284.24,-1.73574)(284.29,-1.73945)(284.35,-1.73952)(284.38,-1.73952)(284.42,-1.73437)(284.47,-1.73420)(284.51,-1.73300)(284.55,-1.73746)(284.59,-1.74175)
(284.64,-1.72683)(284.68,-1.72665)(284.73,-1.73128)(284.77,-1.73334)(284.81,-1.73386)(284.85,-1.73334)(284.88,-1.73101)(284.92,-1.73626)(284.96,-1.73403)(285.00,-1.73969)(285.04,-1.73489)(285.08,-1.73540)(285.12,-1.73677)(285.15,-1.73780)(285.19,-1.73952)(285.23,-1.73616)(285.27,-1.73694)(285.31,-1.73917)(285.35,-1.74020)(285.385,-1.74072)(285.42,-1.73609)(285.46,-1.73019)(285.50,-1.73197)(285.54,-1.73369)(285.57,-1.73540)(285.60,-1.73386)(285.64,-1.73540)(285.67,-1.73454)(285.71,-1.73780)(285.75,-1.73317)(285.79,-1.73849)(285.83,-1.73729)(285.88,-1.73540)(285.91,-1.73334)(285.95,-1.73101)(285.99,-1.73437)(286.03,-1.73643)(286.07,-1.73643)(286.11,-1.73763)(286.15,-1.73266)(286.18,-1.73351)(286.22,-1.73334)(286.26,-1.73489)(286.30,-1.73643)(286.34,-1.73437)(286.38,-1.73249)(286.42,-1.73643)(286.45,-1.73506)(286.49,-1.73523)(286.53,-1.73506)(286.57,-1.73712)(286.61,-1.73197)(286.65,-1.73163)(286.68,-1.73386)(286.72,-1.73557)(286.76,-1.73410)(286.80,-1.73471)(286.84,-1.73643)(286.88,-1.73780)(286.92,-1.74089)(286.94,-1.74483)(286.98,-1.73677)(287.02,-1.73156)(287.06,-1.73300)(287.10,-1.73574)(287.15,-1.73574)(287.18,-1.73026)(287.22,-1.73197)(287.26,-1.73420)(287.30,-1.73231)(287.34,-1.73437)(287.38,-1.73609)(287.42,-1.73540)(287.45,-1.73643)(287.50,-1.73746)(287.54,-1.73523)(287.57,-1.73231)(287.61,-1.73471)(287.65,-1.73489)(287.69,-1.73506)(287.72,-1.73609)(287.76,-1.73334)(287.80,-1.73471)(287.84,-1.73471)(287.88,-1.73746)(287.92,-1.73694)(287.955,-1.73705)(287.99,-1.73814)(288.04,-1.74072)(288.08,-1.73917)(288.12,-1.73705)(288.16,-1.73557)(288.20,-1.73780)(288.23,-1.74055)(288.27,-1.74295)(288.31,-1.73677)(288.35,-1.73694)(288.39,-1.73883)(288.43,-1.73746)(288.465,-1.74175)(288.50,-1.73677)(288.54,-1.73146)(288.58,-1.73609)(288.62,-1.73506)(288.66,-1.73694)(288.70,-1.73814)(288.73,-1.74037)(288.77,-1.73626)(288.81,-1.73814)(288.85,-1.73609)(288.89,-1.73386)(288.93,-1.73540)(288.97,-1.73454)(289.00,-1.73471)(289.04,-1.73643)(289.08,-1.73814)(289.12,-1.73969)(289.16,-1.74072)(289.20,-1.73952)(289.24,-1.73883)(289.27,-1.73705)(289.31,-1.73917)(289.35,-1.74157)(289.39,-1.74020)(289.43,-1.74123)(289.47,-1.74219)(289.505,-1.73849)(289.54,-1.73952)(289.58,-1.73832)(289.62,-1.74106)(289.66,-1.73705)(289.70,-1.73746)(289.74,-1.74020)(289.77,-1.73832)(289.81,-1.74037)(289.85,-1.73814)(289.89,-1.73694)(289.93,-1.73660)(289.97,-1.73883)(290.00,-1.74020)(290.04,-1.74037)(290.08,-1.74089)(290.12,-1.74192)(290.16,-1.73660)(290.20,-1.73849)(290.24,-1.74157)(290.27,-1.73969)(290.31,-1.74157)(290.35,-1.74123)(290.39,-1.73334)(290.43,-1.73471)(290.47,-1.73506)(290.51,-1.73609)(290.54,-1.73814)(290.58,-1.74055)(290.62,-1.74260)(290.66,-1.74415)(290.70,-1.74432)(290.74,-1.74209)(290.775,-1.72923)(290.81,-1.72940)(290.85,-1.73077)(290.89,-1.72700)(290.93,-1.72991)(290.97,-1.73300)(291.01,-1.73643)(291.05,-1.73746)(291.08,-1.73849)(291.12,-1.73952)(291.16,-1.74157)(291.20,-1.74151)(291.24,-1.74020)(291.28,-1.73197)(291.31,-1.73420)(291.35,-1.72425)(291.39,-1.72683)(291.43,-1.72957)(291.47,-1.72425)(291.51,-1.72579)(291.55,-1.72837)(291.58,-1.73111)(291.62,-1.73008)(291.66,-1.73334)(291.70,-1.73437)(291.74,-1.73111)(291.78,-1.72837)(291.81,-1.72597)(291.85,-1.72854)(291.89,-1.72974)(291.93,-1.72957)(291.97,-1.72957)(292.01,-1.72888)(292.05,-1.73146)(292.085,-1.73111)(292.12,-1.73266)(292.16,-1.73403)(292.20,-1.73506)(292.24,-1.73814)(292.28,-1.73420)(292.32,-1.73403)(292.35,-1.73266)(292.39,-1.73043)(292.43,-1.73540)(292.47,-1.73694)(292.51,-1.72906)(292.55,-1.72837)(292.585,-1.72854)(292.62,-1.73317)(292.66,-1.73180)(292.70,-1.72923)(292.74,-1.72768)(292.78,-1.73026)(292.82,-1.73146)(292.85,-1.73060)(292.89,-1.72854)(292.93,-1.72871)(292.97,-1.72957)(293.01,-1.73060)(293.05,-1.73197)(293.085,-1.73043)(293.12,-1.73266)(293.15,-1.73705)(293.19,-1.73300)(293.23,-1.72940)(293.27,-1.73146)(293.31,-1.72957)(293.345,-1.72785)(293.38,-1.72683)(293.42,-1.73128)(293.46,-1.73369)(293.50,-1.73602)(293.54,-1.73403)(293.58,-1.73197)(293.615,-1.73592)(293.65,-1.73094)(293.69,-1.73403)(293.73,-1.73780)(293.77,-1.73163)(293.81,-1.73334)(293.85,-1.73437)(293.88,-1.73540)(293.92,-1.73746)(293.96,-1.73797)(294.00,-1.73729)(294.04,-1.73883)(294.08,-1.73677)(294.115,-1.73883)(294.15,-1.73403)(294.19,-1.73386)(294.23,-1.73592)(294.27,-1.73369)(294.31,-1.73557)(294.35,-1.73746)(294.38,-1.74020)(294.42,-1.74346)(294.46,-1.74466)(294.50,-1.73849)(294.54,-1.73403)(294.58,-1.73369)(294.62,-1.73917)(294.655,-1.73420)(294.69,-1.73420)(294.73,-1.73403)(294.77,-1.73386)(294.81,-1.73369)(294.85,-1.73300)(294.885,-1.72957)(294.92,-1.72683)(294.95,-1.72460)(294.99,-1.72717)(295.03,-1.73197)(295.07,-1.73437)(295.11,-1.73677)(295.145,-1.73128)(295.18,-1.72724)(295.22,-1.72923)(295.26,-1.73231)(295.30,-1.73060)(295.34,-1.72854)(295.375,-1.72751)(295.41,-1.72991)(295.45,-1.73334)(295.49,-1.73334)(295.53,-1.72940)(295.57,-1.73386)(295.61,-1.73677)(295.645,-1.73935)(295.68,-1.73437)(295.72,-1.73094)(295.75,-1.72820)(295.79,-1.73180)(295.83,-1.73660)(295.86,-1.73094)(295.90,-1.73128)(295.93,-1.73266)(295.97,-1.73609)(296.01,-1.74089)(296.05,-1.74192)(296.09,-1.73746)(296.13,-1.72888)
(296.165,-1.73026)(296.20,-1.73043)(296.24,-1.73420)(296.28,-1.73437)(296.32,-1.73636)(296.36,-1.73266)(296.40,-1.72984)(296.43,-1.73111)(296.47,-1.73266)(296.51,-1.73369)(296.55,-1.73266)(296.59,-1.73266)(296.63,-1.73643)(296.655,-1.73866)(296.69,-1.73506)(296.73,-1.73146)(296.77,-1.73454)(296.81,-1.73437)(296.85,-1.73214)(296.89,-1.73386)(296.92,-1.73231)(296.96,-1.73026)(297.00,-1.72854)(297.04,-1.72923)(297.07,-1.72528)(297.11,-1.73163)(297.15,-1.73128)(297.18,-1.72648)(297.23,-1.72339)(297.27,-1.73043)(297.31,-1.72802)(297.35,-1.72597)(297.39,-1.72700)(297.42,-1.73008)(297.46,-1.72871)(297.50,-1.72871)(297.54,-1.72923)(297.58,-1.73060)(297.61,-1.73249)(297.65,-1.72906)(297.69,-1.73334)(297.72,-1.73128)(297.76,-1.73077)(297.80,-1.73163)(297.84,-1.73660)(297.88,-1.72871)(297.92,-1.73334)(297.955,-1.73026)(297.99,-1.73317)(298.03,-1.73616)(298.07,-1.72820)(298.11,-1.73026)(298.15,-1.73094)(298.19,-1.72906)(298.22,-1.73231)(298.26,-1.73334)(298.30,-1.73420)(298.34,-1.73540)(298.38,-1.73574)(298.42,-1.73403)(298.45,-1.72957)(298.48,-1.73317)(298.52,-1.73266)(298.56,-1.73410)(298.60,-1.73334)(298.64,-1.73231)(298.68,-1.73506)(298.715,-1.73128)(298.75,-1.73077)(298.79,-1.73403)(298.83,-1.73410)(298.87,-1.73420)(298.91,-1.73506)(298.95,-1.73694)(298.98,-1.73917)(299.02,-1.74089)(299.06,-1.73454)(299.10,-1.73643)(299.14,-1.73935)(299.18,-1.74089)(299.22,-1.73454)(299.25,-1.73489)(299.29,-1.73832)(299.33,-1.73489)(299.37,-1.73694)(299.41,-1.73574)(299.45,-1.73403)(299.49,-1.73540)(299.52,-1.74089)(299.56,-1.73883)(299.60,-1.73609)(299.64,-1.73746)(299.68,-1.73900)(299.72,-1.73935)(299.75,-1.73677)(299.79,-1.73053)(299.83,-1.73094)(299.87,-1.73437)(299.91,-1.73506)(299.95,-1.73609)(299.99,-1.74020)(300.02,-1.73746)(300.06,-1.73362)(300.10,-1.73900)(300.14,-1.73403)(300.18,-1.73317)(300.22,-1.73609)(300.255,-1.73334)(300.29,-1.73900)(300.33,-1.73540)(300.37,-1.73266)(300.41,-1.73300)(300.45,-1.73780)(300.49,-1.73609)(300.52,-1.73437)(300.56,-1.73471)(300.60,-1.73609)(300.64,-1.73780)(300.68,-1.73471)(300.71,-1.73197)(300.75,-1.73540)(300.78,-1.73557)(300.82,-1.73643)(300.86,-1.74483)(300.90,-1.73986)(300.94,-1.73266)(300.98,-1.74363)(301.02,-1.73369)(301.05,-1.73094)(301.09,-1.73437)(301.13,-1.73746)(301.17,-1.74157)(301.21,-1.74226)(301.25,-1.73540)(301.29,-1.73094)(301.32,-1.73540)(301.36,-1.73986)(301.40,-1.73540)(301.44,-1.73334)(301.48,-1.74243)(301.52,-1.73849)(301.55,-1.74295)(301.59,-1.74209)(301.63,-1.73952)(301.67,-1.73557)(301.71,-1.73729)(301.75,-1.73746)(301.79,-1.73214)(301.82,-1.73609)(301.86,-1.73832)(301.90,-1.73609)(301.94,-1.73334)(301.98,-1.73163)(302.02,-1.73403)(302.06,-1.73986)(302.09,-1.73677)(302.13,-1.73883)(302.17,-1.73677)(302.21,-1.73300)(302.25,-1.73506)(302.29,-1.73334)(302.32,-1.73369)(302.36,-1.73592)(302.40,-1.73111)(302.44,-1.73300)(302.48,-1.73609)(302.52,-1.73351)(302.556,-1.73677)(302.59,-1.73849)(302.63,-1.73471)(302.67,-1.73729)(302.71,-1.73249)(302.75,-1.73300)(302.79,-1.73094)(302.82,-1.73540)(302.86,-1.73643)(302.90,-1.73797)(302.94,-1.73814)(302.98,-1.73849)(303.02,-1.73369)(303.06,-1.73574)(303.09,-1.73523)(303.13,-1.73437)(303.17,-1.73643)(303.20,-1.74209)(303.24,-1.73471)(303.28,-1.73369)(303.32,-1.73677)(303.36,-1.73626)(303.39,-1.73849)(303.43,-1.74020)(303.47,-1.74380)(303.51,-1.73986)(303.55,-1.74260)(303.59,-1.74020)(303.62,-1.74312)(303.65,-1.74500)(303.69,-1.73471)(303.73,-1.73694)(303.77,-1.73540)(303.81,-1.73694)(303.83,-1.73410)(303.86,-1.73694)(303.90,-1.73609)(303.94,-1.73574)(303.98,-1.73609)(304.02,-1.73969)(304.06,-1.73471)(304.095,-1.73471)(304.13,-1.73952)(304.16,-1.74415)(304.20,-1.73351)(304.24,-1.73609)(304.28,-1.73643)(304.32,-1.73780)(304.355,-1.73797)(304.39,-1.74192)(304.43,-1.73849)(304.47,-1.74037)(304.51,-1.73849)(304.55,-1.73780)(304.59,-1.73952)(304.62,-1.73814)(304.66,-1.73677)(304.70,-1.73814)(304.74,-1.73952)(304.78,-1.74192)(304.82,-1.74192)(304.86,-1.74483)(304.89,-1.74037)(304.93,-1.73746)(304.97,-1.73489)(305.00,-1.73513)
};
\end{axis}
\end{tikzpicture}
\end{document}
